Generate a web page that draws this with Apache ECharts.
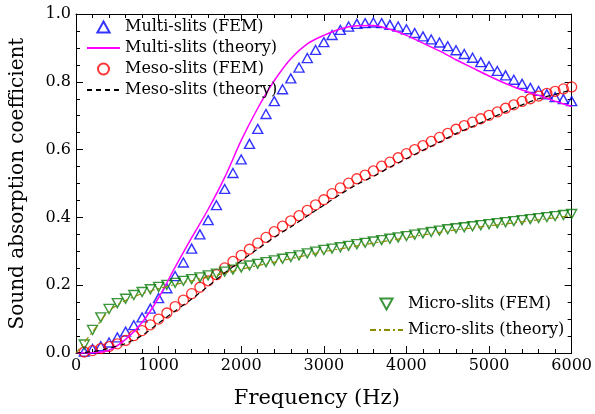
<!DOCTYPE html>
<html>
<head>
<meta charset="utf-8">
<script src="https://cdn.jsdelivr.net/npm/echarts@6/dist/echarts.min.js"></script>
<style>html,body{margin:0;padding:0;background:#fff;}#c{width:595px;height:414px;}</style>
</head>
<body>
<div id="c"></div>
<script>
const freqFEM = [100,200,300,400,500,600,700,800,900,1000,
 1100,1200,1300,1400,1500,1600,1700,1800,1900,2000,
 2100,2200,2300,2400,2500,2600,2700,2800,2900,3000,
 3100,3200,3300,3400,3500,3600,3700,3800,3900,4000,
 4100,4200,4300,4400,4500,4600,4700,4800,4900,5000,
 5100,5200,5300,5400,5500,5600,5700,5800,5900,6000];
const multiFEM = [0.004,0.012,0.020,0.031,0.046,0.063,0.082,0.105,0.131,0.162,
 0.191,0.227,0.267,0.308,0.350,0.392,0.436,0.484,0.531,0.571,
 0.617,0.661,0.705,0.743,0.778,0.810,0.842,0.870,0.894,0.917,
 0.938,0.953,0.963,0.971,0.973,0.975,0.973,0.968,0.963,0.955,
 0.944,0.934,0.925,0.916,0.905,0.893,0.882,0.871,0.858,0.846,
 0.832,0.819,0.806,0.794,0.782,0.773,0.763,0.755,0.749,0.743];
const mesoFEM = [0.003,0.007,0.013,0.019,0.027,0.037,0.051,0.066,0.083,0.100,
 0.118,0.137,0.156,0.175,0.194,0.213,0.231,0.251,0.270,0.288,
 0.306,0.324,0.341,0.358,0.374,0.390,0.405,0.421,0.437,0.452,
 0.470,0.487,0.501,0.514,0.525,0.537,0.551,0.563,0.576,0.588,
 0.600,0.612,0.624,0.636,0.648,0.660,0.671,0.681,0.691,0.701,
 0.711,0.722,0.732,0.742,0.750,0.758,0.766,0.772,0.779,0.785];
const microFEM = [0.025,0.068,0.105,0.130,0.147,0.160,0.171,0.180,0.188,0.195,
 0.201,0.207,0.213,0.218,0.223,0.229,0.234,0.240,0.246,0.252,
 0.258,0.263,0.268,0.273,0.278,0.283,0.288,0.294,0.299,0.304,
 0.308,0.312,0.316,0.321,0.325,0.329,0.333,0.337,0.341,0.345,
 0.349,0.353,0.357,0.361,0.365,0.368,0.371,0.374,0.377,0.380,
 0.383,0.386,0.389,0.392,0.395,0.398,0.401,0.404,0.407,0.410];
const freqTheory = [0,200,400,600,800,1000,1200,1400,1600,1800,2000,
 2200,2400,2600,2800,3000,3200,3400,3600,3800,4000,
 4200,4400,4600,4800,5000,5200,5400,5600,5800,6000];
const multiTheory = [0.000,0.001,0.008,0.040,0.090,0.163,0.253,0.340,0.424,0.518,0.627,
 0.722,0.803,0.868,0.912,0.937,0.956,0.965,0.966,0.955,0.937,
 0.914,0.891,0.865,0.841,0.817,0.795,0.776,0.760,0.743,0.727];
const mesoTheory = [0.000,0.004,0.014,0.028,0.052,0.088,0.124,0.159,0.197,0.236,0.272,
 0.307,0.341,0.372,0.404,0.436,0.468,0.497,0.521,0.548,0.573,
 0.598,0.622,0.647,0.668,0.690,0.712,0.732,0.750,0.763,0.776];
const microTheory = [0.000,0.062,0.124,0.155,0.175,0.190,0.202,0.213,0.224,0.235,0.247,
 0.258,0.268,0.278,0.289,0.299,0.307,0.316,0.324,0.332,0.340,
 0.348,0.356,0.363,0.369,0.375,0.381,0.387,0.393,0.399,0.405];
const xTicks = [0,1000,2000,3000,4000,5000,6000];
const yTicks = [0.0,0.2,0.4,0.6,0.8,1.0];

const FONT = 'DejaVu Serif';
const pairs = (xs, ys) => xs.map((x, i) => [x, ys[i]]);

const axisCommon = (isX, showLabel, pos) => ({
  type: 'value',
  position: pos,
  min: isX ? xTicks[0] : yTicks[0],
  max: isX ? xTicks[xTicks.length - 1] : yTicks[yTicks.length - 1],
  interval: isX ? xTicks[1] - xTicks[0] : yTicks[1] - yTicks[0],
  axisLine: { show: true, onZero: false, lineStyle: { color: '#000', width: 1 } },
  axisTick: { show: true, inside: true, length: 7, lineStyle: { color: '#000', width: 1 } },
  minorTick: { show: true, splitNumber: isX ? 5 : 4, length: 4, lineStyle: { color: '#000', width: 1 } },
  splitLine: { show: false },
  axisLabel: {
    show: showLabel, color: '#000', fontFamily: FONT, fontSize: 16, margin: 5,
    formatter: isX ? (v => String(v)) : (v => v.toFixed(1))
  }
});

const TRI_UP = 'path://M5,0 L10,9 L0,9 Z';
const TRI_DOWN = 'path://M0,0 L10,0 L5,9 Z';
const noSym = { color: 'rgba(0,0,0,0)', borderWidth: 0, opacity: 0 };

const chart = echarts.init(document.getElementById('c'), null, { renderer: 'canvas' });
chart.setOption({
  animation: false,
  backgroundColor: '#fff',
  grid: { left: 76, right: 23, top: 14, bottom: 60 },
  xAxis: [
    Object.assign(axisCommon(true, true, 'bottom'), {
      name: 'Frequency (Hz)', nameLocation: 'middle', nameGap: 35,
      nameTextStyle: { fontFamily: FONT, fontSize: 21, color: '#000', padding: [0, 14, 0, 0] }
    }),
    axisCommon(true, false, 'top')
  ],
  yAxis: [
    Object.assign(axisCommon(false, true, 'left'), {
      name: 'Sound absorption coefficient', nameLocation: 'middle', nameGap: 48,
      nameTextStyle: { fontFamily: FONT, fontSize: 20, color: '#000' }
    }),
    axisCommon(false, false, 'right')
  ],
  legend: [
    {
      orient: 'vertical', left: 81, top: 14,
      itemWidth: 33, itemHeight: 11, itemGap: 5, symbolKeepAspect: true,
      textStyle: { fontFamily: FONT, fontSize: 16, color: '#000' },
      data: [
        { name: 'Multi-slits (FEM)', icon: TRI_UP },
        { name: 'Multi-slits (theory)', itemStyle: noSym },
        { name: 'Meso-slits (FEM)', icon: 'circle' },
        { name: 'Meso-slits (theory)', itemStyle: noSym }
      ]
    },
    {
      orient: 'vertical', left: 364, top: 291,
      itemWidth: 33, itemHeight: 11, itemGap: 10, symbolKeepAspect: true,
      textStyle: { fontFamily: FONT, fontSize: 16, color: '#000' },
      data: [
        { name: 'Micro-slits (FEM)', icon: TRI_DOWN },
        { name: 'Micro-slits (theory)', itemStyle: noSym }
      ]
    }
  ],
  series: [
    {
      name: 'Multi-slits (FEM)', type: 'scatter', data: pairs(freqFEM, multiFEM),
      symbol: 'triangle', symbolSize: [10, 9],
      itemStyle: { color: 'rgba(255,255,255,0)', borderColor: '#0000ff', borderWidth: 1.4 }
    },
    {
      name: 'Multi-slits (theory)', type: 'line', data: pairs(freqTheory, multiTheory),
      smooth: 0.3, symbol: 'none', showSymbol: false,
      lineStyle: { color: '#ff00ff', width: 1.5 }, itemStyle: { color: '#ff00ff' }
    },
    {
      name: 'Meso-slits (FEM)', type: 'scatter', data: pairs(freqFEM, mesoFEM),
      symbol: 'circle', symbolSize: 10,
      itemStyle: { color: 'rgba(255,255,255,0)', borderColor: '#ff0000', borderWidth: 1.3 }
    },
    {
      name: 'Meso-slits (theory)', type: 'line', data: pairs(freqTheory, mesoTheory),
      smooth: 0.3, symbol: 'none', showSymbol: false,
      lineStyle: { color: '#000', width: 1.2, type: [5, 4] }, itemStyle: { color: '#000' }
    },
    {
      name: 'Micro-slits (FEM)', type: 'scatter', data: pairs(freqFEM, microFEM),
      symbol: 'triangle', symbolRotate: 180, symbolSize: [10, 9],
      itemStyle: { color: 'rgba(255,255,255,0)', borderColor: '#0a7a0a', borderWidth: 1.4 }
    },
    {
      name: 'Micro-slits (theory)', type: 'line', data: pairs(freqTheory, microTheory),
      smooth: 0.3, symbol: 'none', showSymbol: false,
      lineStyle: { color: '#8c8c00', width: 1.2, type: [6, 3, 2, 3] }, itemStyle: { color: '#8c8c00' }
    }
  ]
});
</script>
</body>
</html>
